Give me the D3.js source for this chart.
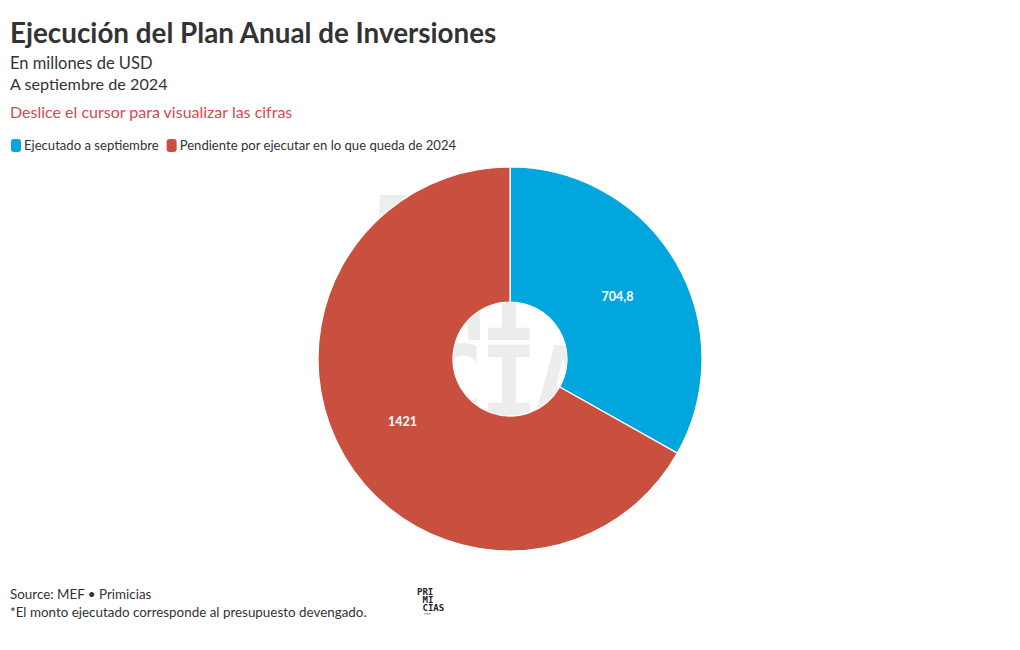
<!DOCTYPE html>
<html><head><meta charset="utf-8">
<script src="https://cdn.jsdelivr.net/npm/d3@7"></script>
<style>
body{margin:0;background:#fff;}
svg{display:block;font-family:"Source Sans Pro",Lato,"Open Sans",sans-serif;}
</style></head>
<body><svg id="chart" width="1020" height="650"></svg>
<script>
const categories = ["Ejecutado a septiembre", "Pendiente por ejecutar en lo que queda de 2024"];
const values = [704.8, 1421];
const valueLabels = ["704,8", "1421"];
const colors = ["#01a6df", "#c9503e"];
const watermarkRows = [["P", "R", "I"], ["", "M", "I"], ["", "C", "I", "A", "S"]];

const svg = d3.select("#chart");

// Title block
svg.append("text").attr("x", 10).attr("y", 43).attr("font-size", 27.8).attr("font-weight", 700)
  .attr("fill", "#333").text("Ejecución del Plan Anual de Inversiones");
svg.append("text").attr("x", 10).attr("y", 69).attr("font-size", 16.5).attr("fill", "#333").text("En millones de USD");
svg.append("text").attr("x", 10).attr("y", 90).attr("font-size", 16.2).attr("fill", "#333").text("A septiembre de 2024");
svg.append("text").attr("x", 10).attr("y", 118).attr("font-size", 16).attr("fill", "#d24b4b").text("Deslice el cursor para visualizar las cifras");

// Legend
const leg = svg.append("g");
let lx = 11;
categories.forEach((c, i) => {
  leg.append("rect").attr("x", lx).attr("y", 139).attr("width", 10).attr("height", 13).attr("rx", 3)
    .attr("fill", colors[i]);
  const t = leg.append("text").attr("x", lx + 13).attr("y", 150).attr("font-size", 13.1).attr("fill", "#333").text(c);
  lx += 13 + t.node().getComputedTextLength() + 8;
});

// Watermark (grid letters behind the donut), one text element
const cx = 510, cy = 359, R = 192, r = 57;
const wm = svg.append("text").attr("fill", "#ededed").attr("font-weight", 700).attr("font-size", 96)
  .attr("font-family", "'DejaVu Sans Mono', monospace").attr("text-anchor", "middle");
watermarkRows.forEach((row, ri) => {
  row.forEach((ch, ci) => {
    if (!ch) return;
    wm.append("tspan").attr("x", 401 + ci * 54).attr("y", 265 + ri * 75).text(ch);
  });
});

// Donut
const pie = d3.pie().sort(null).value(d => d)(values);
const arc = d3.arc().innerRadius(r).outerRadius(R);
const g = svg.append("g").attr("transform", `translate(${cx},${cy})`);
g.selectAll("path").data(pie).join("path")
  .attr("d", arc).attr("fill", (d, i) => colors[i]).attr("stroke", "#fff").attr("stroke-width", 1.2);
g.selectAll("text.lbl").data(pie).join("text").attr("class", "lbl")
  .attr("transform", d => `translate(${arc.centroid(d)})`)
  .attr("text-anchor", "middle").attr("dy", "0.35em")
  .attr("font-size", 12.5).attr("font-weight", 700).attr("fill", "#fff")
  .text((d, i) => valueLabels[i]);

// Footer
svg.append("text").attr("x", 10).attr("y", 599).attr("font-size", 13.4).attr("fill", "#333").text("Source: MEF • Primicias");
svg.append("text").attr("x", 10).attr("y", 617).attr("font-size", 13.4).attr("fill", "#333").text("*El monto ejecutado corresponde al presupuesto devengado.");
const logo = svg.append("text").attr("font-size", 9).attr("font-weight", 700).attr("fill", "#222")
  .attr("font-family", "'DejaVu Sans Mono', monospace");
logo.append("tspan").attr("x", 417).attr("y", 595).text("PRI");
logo.append("tspan").attr("x", 422.5).attr("y", 603).text("MI");
logo.append("tspan").attr("x", 422.5).attr("y", 611).text("CIAS");
svg.append("rect").attr("x", 424).attr("y", 613).attr("width", 7).attr("height", 1.5).attr("fill", "#7cc8ea");
</script></body></html>
